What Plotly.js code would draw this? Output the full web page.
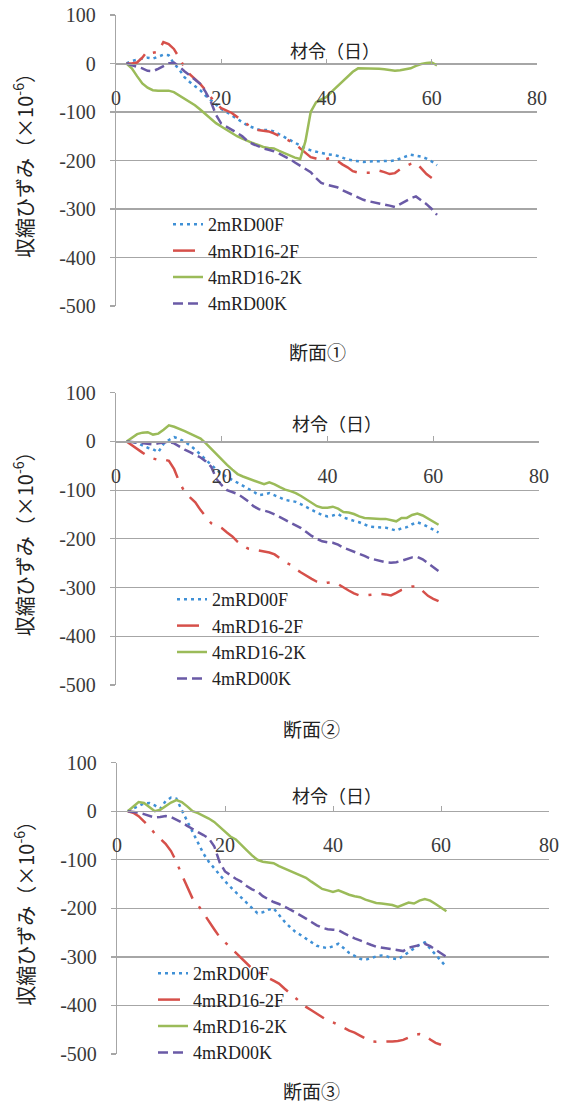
<!DOCTYPE html>
<html>
<head>
<meta charset="utf-8">
<script src="https://cdn.plot.ly/plotly-3.0.1.min.js"></script>
<style>html,body{margin:0;padding:0;background:#fff;}</style>
</head>
<body>
<div id="chart" style="width:566px;height:1104px;"></div>
<script>
// ---- data ----
const days = [2,3,4,5,6,7,8,9,10,11,12,13,14,15,16,17,18,19,20,21,22,23,24,25,26,27,28,29,30,31,32,33,34,35,36,37,38,39,40,41,42,43,44,45,46,47,48,49,50,51,52,53,54,55,56,57,58,59,60,61];
const seriesNames = ['2mRD00F', '4mRD16-2F', '4mRD16-2K', '4mRD00K'];
const panelNames = ['断面①', '断面②', '断面③'];
const xTickVals = [0, 20, 40, 60, 80];
const xTickText = ['0', '20', '40', '60', '80'];
const yTickVals = [100, 0, -100, -200, -300, -400, -500];
const yTickText = ['100', '0', '-100', '-200', '-300', '-400', '-500'];

// 断面①
const s1_2mRD00F = [0,5,8,10,12,10,14,18,17,0,
  -12,-28,-38,-46,-55,-66,-75,-85,-94,-100,
  -107,-113,-121,-128,-132,-136,-137,-137,-140,-146,
  -152,-158,-164,-170,-175,-179,-182,-184,-187,-188,
  -190,-194,-198,-200,-202,-203,-202,-202,-202,-202,
  -201,-200,-196,-191,-188,-190,-192,-196,-202,-210];
const s1_4mRD16_2F = [0,0,2,12,26,22,24,44,40,30,
  12,-8,-22,-31,-42,-55,-70,-83,-92,-97,
  -102,-110,-117,-126,-133,-137,-139,-140,-144,-149,
  -155,-160,-165,-175,-185,-193,-196,-199,-197,-194,
  -200,-208,-214,-222,-225,-225,-225,-223,-221,-224,
  -228,-226,-218,-212,-207,-204,-216,-228,-236];
const s1_4mRD16_2K = [0,-10,-26,-41,-50,-55,-56,-56,-56,-59,
  -66,-72,-79,-86,-95,-104,-113,-123,-130,-137,
  -144,-150,-155,-160,-164,-168,-172,-174,-175,-180,
  -185,-190,-194,-197,-160,-100,-80,-74,-69,-58,
  -48,-38,-27,-17,-10,-10,-10,-10,-11,-12,
  -14,-15,-14,-12,-10,-5,-1,1,2,-4];
const s1_4mRD00K = [0,-3,-6,-10,-15,-16,-11,-5,0,2,
  -6,-16,-24,-33,-42,-58,-78,-106,-124,-130,
  -136,-143,-150,-160,-166,-171,-175,-178,-181,-186,
  -191,-197,-204,-211,-217,-224,-236,-246,-250,-252,
  -255,-261,-266,-270,-276,-281,-284,-286,-288,-290,
  -293,-296,-290,-284,-278,-274,-282,-290,-300,-312];

// 断面②
const s2_2mRD00F = [0,-1,-3,-8,-13,-16,-22,-5,3,9,
  5,-1,-8,-17,-28,-38,-48,-58,-67,-73,
  -79,-84,-90,-97,-103,-110,-109,-106,-111,-116,
  -120,-122,-124,-129,-135,-140,-146,-151,-154,-152,
  -149,-156,-160,-163,-166,-170,-175,-176,-176,-177,
  -180,-183,-178,-176,-170,-166,-170,-175,-181,-187];
const s2_4mRD16_2F = [0,-8,-15,-23,-30,-35,-38,-37,-40,-57,
  -84,-104,-115,-125,-141,-155,-168,-172,-178,-187,
  -195,-206,-214,-220,-222,-224,-226,-228,-232,-240,
  -248,-253,-262,-269,-276,-282,-288,-292,-290,-289,
  -293,-300,-306,-312,-316,-316,-315,-314,-313,-314,
  -316,-311,-305,-302,-298,-297,-308,-317,-323,-328];
const s2_4mRD16_2K = [0,7,15,18,19,14,16,24,33,30,
  26,21,16,11,6,-4,-15,-27,-39,-48,
  -58,-67,-72,-76,-80,-84,-88,-84,-88,-94,
  -99,-102,-106,-112,-119,-126,-133,-136,-136,-134,
  -138,-145,-146,-149,-154,-157,-158,-158,-159,-159,
  -162,-164,-157,-157,-151,-148,-152,-158,-164,-171];
const s2_4mRD00K = [0,-1,-2,-3,-4,-6,-4,-2,-1,-4,
  -11,-17,-22,-28,-33,-41,-52,-77,-90,-100,
  -104,-108,-115,-123,-133,-139,-142,-145,-150,-155,
  -161,-167,-172,-178,-186,-194,-200,-205,-207,-208,
  -212,-218,-222,-226,-231,-235,-240,-243,-246,-248,
  -249,-248,-245,-241,-238,-237,-242,-250,-258,-266];

// 断面③
const s3_2mRD00F = [0,5,10,16,17,12,5,21,28,26,
  2,-20,-43,-64,-87,-104,-118,-132,-144,-156,
  -167,-179,-190,-200,-210,-208,-203,-200,-214,-227,
  -238,-248,-255,-262,-270,-277,-280,-282,-278,-273,
  -282,-292,-298,-304,-306,-302,-299,-297,-299,-303,
  -305,-298,-290,-282,-275,-270,-282,-296,-308,-321];
const s3_4mRD16_2F = [0,-3,-10,-20,-32,-46,-56,-67,-82,-104,
  -131,-157,-180,-193,-210,-228,-243,-259,-270,-280,
  -290,-302,-314,-324,-330,-337,-343,-349,-355,-365,
  -375,-385,-395,-403,-410,-417,-425,-431,-435,-440,
  -446,-452,-456,-462,-468,-474,-475,-475,-474,-474,
  -473,-471,-466,-461,-459,-462,-470,-477,-481];
const s3_4mRD16_2K = [0,9,19,17,8,0,3,10,18,23,
  19,10,0,-4,-9,-15,-22,-32,-43,-52,
  -58,-68,-80,-91,-100,-104,-105,-107,-113,-118,
  -122,-127,-132,-137,-145,-153,-160,-163,-166,-163,
  -168,-172,-175,-177,-182,-186,-189,-190,-191,-193,
  -197,-193,-188,-190,-184,-181,-184,-191,-198,-206];
const s3_4mRD00K = [0,-1,-3,-6,-9,-13,-12,-10,-12,-17,
  -23,-30,-37,-43,-49,-56,-72,-105,-124,-132,
  -139,-145,-154,-161,-165,-175,-181,-187,-191,-196,
  -202,-208,-214,-221,-228,-235,-240,-243,-244,-245,
  -251,-257,-262,-266,-271,-275,-279,-281,-283,-285,
  -287,-288,-281,-278,-275,-273,-278,-285,-293,-300];

const panels = [
  [s1_2mRD00F, s1_4mRD16_2F, s1_4mRD16_2K, s1_4mRD00K],
  [s2_2mRD00F, s2_4mRD16_2F, s2_4mRD16_2K, s2_4mRD00K],
  [s3_2mRD00F, s3_4mRD16_2F, s3_4mRD16_2K, s3_4mRD00K]
];

// ---- styles ----
const lineStyles = [
  {color: '#3f90d6', width: 2.5, dash: '3px,4px'},
  {color: '#d6504a', width: 2.5, dash: '22px,10px,3px,10px'},
  {color: '#9bbb59', width: 2.5},
  {color: '#6a5aa6', width: 2.5, dash: '10px,5px'}
];

const W = 566, H = 1104;
// pixel geometry of each panel: [x of 0, x of 80, y px of 100, y px of -500]
const geom = [
  [116, 537, 15, 306],
  [116, 539, 392.7, 685],
  [117, 549, 762.7, 1054]
];
const legendPos = [[168, 206], [172, 581], [153, 955]];
const xTitlePos = [[335, 50], [337, 423], [337, 795]];
const captionPos = [[317, 352], [311, 728], [311, 1090]];

const gridColor = '#a6a6a6';
const tickFont = {family: 'Liberation Serif', size: 20, color: '#3a3a3a'};
const cjk = 'Noto Sans CJK JP';

const traces = [];
const layout = {
  width: W, height: H,
  margin: {l: 0, r: 0, t: 0, b: 0},
  paper_bgcolor: '#ffffff',
  plot_bgcolor: 'rgba(0,0,0,0)',
  showlegend: true,
  annotations: [],
  font: {family: 'Liberation Serif', color: '#222'}
};

panels.forEach((series, p) => {
  const sfx = p === 0 ? '' : String(p + 1);
  const g = geom[p];
  const yDom = [1 - g[3] / H, 1 - g[2] / H];
  const zeroPos = yDom[0] + (yDom[1] - yDom[0]) * 5 / 6;
  const legendKey = 'legend' + sfx;

  series.forEach((vals, i) => {
    traces.push({
      type: 'scatter', mode: 'lines',
      x: days.slice(0, vals.length), y: vals,
      name: seriesNames[i],
      xaxis: 'x' + sfx, yaxis: 'y' + sfx,
      legend: legendKey,
      line: lineStyles[i],
      hoverinfo: 'skip'
    });
  });

  layout['xaxis' + sfx] = {
    domain: [g[0] / W, g[1] / W],
    anchor: 'free', position: zeroPos,
    range: [0, 80],
    tickmode: 'array', tickvals: xTickVals, ticktext: xTickText,
    ticks: 'inside', ticklen: 5, tickwidth: 1, tickcolor: gridColor,
    showline: true, linecolor: gridColor, linewidth: 1.2,
    showgrid: false, zeroline: false,
    tickfont: tickFont, ticklabelstandoff: 16,
    fixedrange: true
  };
  layout['yaxis' + sfx] = {
    domain: yDom,
    anchor: 'x' + sfx,
    range: [-500, 100],
    tickmode: 'array', tickvals: yTickVals, ticktext: yTickText,
    ticks: 'outside', ticklen: 5, tickwidth: 1.2, tickcolor: gridColor,
    showline: true, linecolor: gridColor, linewidth: 1.2,
    showgrid: true, gridcolor: gridColor, gridwidth: 1.2,
    zeroline: false,
    tickfont: tickFont, ticklabelstandoff: 10,
    title: {text: '収縮ひずみ（×10<sup>-6</sup>）', font: {family: cjk, size: 20, color: '#222'}, standoff: 20},
    fixedrange: true
  };
  layout[legendKey] = {
    x: legendPos[p][0] / W, y: 1 - legendPos[p][1] / H,
    xanchor: 'left', yanchor: 'top',
    bgcolor: 'rgba(0,0,0,0)', borderwidth: 0,
    font: {family: 'Liberation Serif', size: 18, color: '#222'},
    tracegroupgap: 0, itemwidth: 30
  };
  layout.annotations.push({
    text: '材令（日）', xref: 'paper', yref: 'paper',
    x: xTitlePos[p][0] / W, y: 1 - xTitlePos[p][1] / H,
    xanchor: 'center', yanchor: 'middle', showarrow: false,
    font: {family: cjk, size: 18, color: '#222'}
  });
  layout.annotations.push({
    text: panelNames[p], xref: 'paper', yref: 'paper',
    x: captionPos[p][0] / W, y: 1 - captionPos[p][1] / H,
    xanchor: 'center', yanchor: 'middle', showarrow: false,
    font: {family: cjk, size: 19, color: '#222'}
  });
});

Plotly.newPlot('chart', traces, layout, {displayModeBar: false, staticPlot: true});
</script>
</body>
</html>
